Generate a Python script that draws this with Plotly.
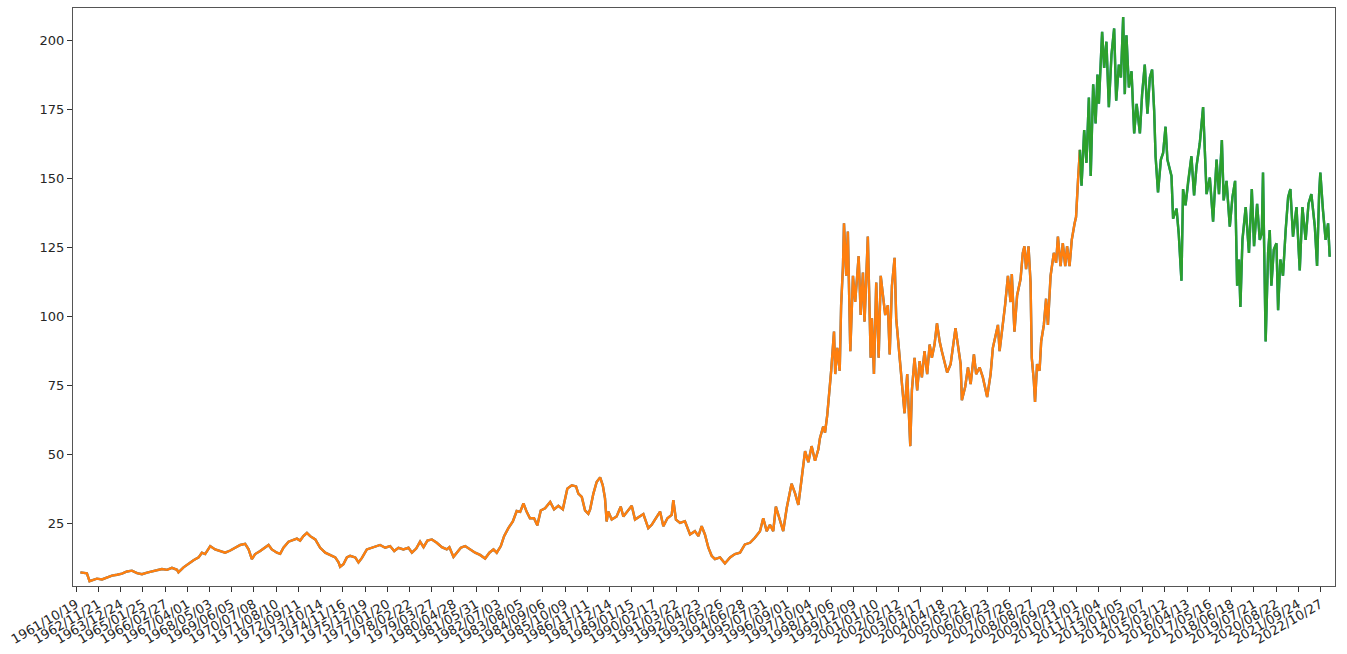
import datetime as dt
import plotly.graph_objects as go

# decimal-year positions and prices
years = [
    1962.00, 1962.24, 1962.32, 1962.45, 1962.65, 1962.81, 1963.06, 1963.30, 1963.55, 1963.80,
    1964.04, 1964.29, 1964.53, 1964.78, 1965.02, 1965.27, 1965.51, 1965.76, 1966.00, 1966.25,
    1966.49, 1966.74, 1966.81, 1967.06, 1967.31, 1967.55, 1967.80, 1967.96, 1968.12, 1968.37,
    1968.61, 1968.86, 1969.10, 1969.35, 1969.59, 1969.84, 1970.08, 1970.25, 1970.41, 1970.57,
    1970.82, 1971.06, 1971.23, 1971.39, 1971.64, 1971.80, 1971.96, 1972.21, 1972.45, 1972.62,
    1972.78, 1972.94, 1973.11, 1973.27, 1973.52, 1973.76, 1974.01, 1974.25, 1974.50, 1974.66,
    1974.74, 1974.90, 1975.07, 1975.23, 1975.48, 1975.64, 1975.81, 1976.05, 1976.30, 1976.54,
    1976.70, 1976.95, 1977.19, 1977.39, 1977.60, 1977.84, 1978.09, 1978.26, 1978.47, 1978.66,
    1978.83, 1979.02, 1979.24, 1979.48, 1979.73, 1979.97, 1980.10, 1980.30, 1980.46, 1980.66,
    1980.87, 1981.11, 1981.36, 1981.60, 1981.85, 1982.06, 1982.26, 1982.42, 1982.62, 1982.78,
    1982.99, 1983.21, 1983.40, 1983.57, 1983.73, 1983.89, 1984.05, 1984.25, 1984.41, 1984.58,
    1984.79, 1985.04, 1985.23, 1985.44, 1985.66, 1985.88, 1986.10, 1986.31, 1986.42, 1986.59,
    1986.75, 1986.91, 1987.00, 1987.16, 1987.32, 1987.49, 1987.62, 1987.73, 1987.81, 1987.89,
    1988.06, 1988.30, 1988.50, 1988.63, 1988.82, 1989.04, 1989.20, 1989.45, 1989.61, 1989.85,
    1990.02, 1990.18, 1990.43, 1990.59, 1990.79, 1991.00, 1991.08, 1991.21, 1991.41, 1991.65,
    1991.90, 1992.14, 1992.31, 1992.47, 1992.63, 1992.80, 1992.96, 1993.12, 1993.37, 1993.61,
    1993.86, 1994.10, 1994.35, 1994.59, 1994.84, 1995.08, 1995.33, 1995.49, 1995.66, 1995.82,
    1995.98, 1996.11, 1996.28, 1996.47, 1996.64, 1996.88, 1997.05, 1997.21, 1997.37, 1997.54,
    1997.70, 1997.86, 1998.03, 1998.19, 1998.27, 1998.43, 1998.52, 1998.63,
    # 1998 - 2005
    1998.82, 1998.96, 1999.02, 1999.12, 1999.24, 1999.31, 1999.40, 1999.45, 1999.56, 1999.64,
    1999.76, 1999.89, 2000.00, 2000.17, 2000.27, 2000.38, 2000.46, 2000.62, 2000.76, 2000.82,
    2000.92, 2001.03, 2001.15, 2001.25, 2001.36, 2001.47, 2001.60, 2001.69, 2001.80, 2001.93,
    2002.01, 2002.09, 2002.23, 2002.29, 2002.42, 2002.55, 2002.63, 2002.70, 2002.78, 2002.91,
    2003.04, 2003.16, 2003.27, 2003.40, 2003.53, 2003.65, 2003.76, 2003.89, 2004.01, 2004.14,
    2004.25, 2004.38, 2004.51, 2004.68, 2004.84, 2004.92, 2005.04,
    # 2005 - 2010
    2005.17, 2005.23, 2005.39, 2005.53, 2005.66, 2005.82, 2005.93, 2006.10, 2006.26, 2006.47,
    2006.64, 2006.75, 2006.86, 2007.00, 2007.08, 2007.24, 2007.35, 2007.49, 2007.62, 2007.68,
    2007.81, 2007.94, 2008.11, 2008.22, 2008.30, 2008.38, 2008.50, 2008.60, 2008.66, 2008.76,
    2008.82, 2008.92, 2009.04, 2009.12, 2009.25, 2009.36, 2009.45, 2009.58, 2009.74, 2009.85,
    2009.94, 2010.07, 2010.18, 2010.30, 2010.39, 2010.51, 2010.62, 2010.76, 2010.83, 2010.93,
    # 2011 - 2017
    2011.02, 2011.10, 2011.23, 2011.34, 2011.46, 2011.55, 2011.67, 2011.79, 2011.88, 2011.95,
    2012.11, 2012.21, 2012.32, 2012.44, 2012.57, 2012.70, 2012.80, 2012.93, 2013.03, 2013.14,
    2013.22, 2013.30, 2013.42, 2013.55, 2013.68, 2013.80, 2013.96, 2014.07, 2014.20, 2014.33,
    2014.45, 2014.56, 2014.66, 2014.73, 2014.85, 2014.99, 2015.10, 2015.22, 2015.31, 2015.51,
    2015.59, 2015.76, 2015.87, 2016.00, 2016.08, 2016.20, 2016.32, 2016.49, 2016.62, 2016.74,
    2016.90, 2017.06,
    # 2017 - 2023
    2017.23, 2017.39, 2017.55, 2017.72, 2017.84, 2017.98, 2018.07, 2018.21, 2018.37, 2018.50,
    2018.63, 2018.73, 2018.82, 2018.89, 2018.99, 2019.15, 2019.31, 2019.45, 2019.56, 2019.71,
    2019.84, 2019.94, 2020.00, 2020.08, 2020.13, 2020.25, 2020.33, 2020.41, 2020.53, 2020.66,
    2020.74, 2020.85, 2020.98, 2021.11, 2021.23, 2021.34, 2021.47, 2021.64, 2021.80, 2021.93,
    2022.09, 2022.23, 2022.37, 2022.54, 2022.65, 2022.75, 2022.81, 2022.94, 2023.07, 2023.19,
    2023.27,
]

prices = [
    7.4, 7.2, 7.0, 4.2, 4.7, 5.1, 4.8, 5.6, 6.2, 6.5,
    6.9, 7.7, 8.0, 7.1, 6.7, 7.3, 7.8, 8.3, 8.6, 8.3,
    9.0, 8.3, 7.4, 9.2, 10.6, 11.8, 12.8, 14.5, 14.0, 16.9,
    15.7, 15.1, 14.5, 15.3, 16.3, 17.3, 17.7, 15.7, 12.2, 14.0,
    15.1, 16.3, 17.3, 15.7, 14.5, 14.1, 16.3, 18.5, 19.3, 19.6,
    18.9, 20.5, 21.7, 20.5, 19.3, 16.3, 14.5, 13.8, 12.8, 11.0,
    9.4, 10.3, 12.8, 13.4, 12.8, 11.0, 12.6, 15.7, 16.3, 16.9,
    17.3, 16.3, 16.9, 15.1, 16.3, 15.7, 16.3, 14.5, 16.0, 18.5,
    16.5, 18.9, 19.3, 18.1, 16.5, 15.7, 16.5, 13.0, 14.5, 16.3,
    16.9, 15.7, 14.5, 13.7, 12.4, 14.5, 15.7, 14.5, 16.9, 20.5,
    23.4, 25.8, 29.6, 29.3, 32.3, 29.3, 27.0, 27.0, 24.4, 29.8,
    30.6, 32.9, 30.2, 31.5, 30.2, 37.7, 38.9, 38.5, 35.9, 34.7,
    29.8, 28.6, 30.2, 35.9, 40.1, 41.8, 38.9, 34.2, 25.8, 29.4,
    26.5, 27.6, 31.2, 27.6, 29.4, 31.5, 26.5, 27.6, 28.5, 23.4,
    24.6, 26.5, 29.4, 24.1, 27.0, 28.2, 33.5, 26.5, 25.3, 25.9,
    21.1, 22.3, 20.5, 24.1, 21.1, 16.3, 13.4, 12.2, 12.8, 10.6,
    12.8, 14.0, 14.5, 17.5, 18.1, 19.9, 22.3, 27.0, 22.3, 24.6,
    22.3, 31.2, 27.0, 22.3, 30.6, 39.5, 36.0, 31.8, 41.2, 51.3,
    47.3, 53.1, 47.8, 51.9, 56.0, 60.2, 58.0, 64.4,
    # 1998 - 2005
    80.4, 94.6, 79.2, 88.7, 80.4, 104.1, 118.3, 133.8, 114.8, 130.8,
    87.5, 114.8, 105.3, 121.9, 100.6, 116.0, 98.2, 129.0, 85.1, 99.4,
    79.2, 112.4, 85.1, 114.8, 107.7, 100.6, 104.1, 86.3, 111.2, 121.3,
    99.4, 92.3, 81.6, 73.3, 65.0, 79.2, 63.8, 53.1, 73.3, 85.1,
    73.3, 83.9, 78.0, 87.5, 79.2, 89.9, 85.1, 89.9, 97.6, 91.1,
    87.5, 83.9, 79.8, 82.8, 92.3, 95.8, 89.5,
    # 2005 - 2010
    82.8, 69.7, 74.5, 81.6, 75.6, 86.3, 79.2, 81.6, 78.0, 70.9,
    79.2, 88.7, 92.3, 97.0, 87.5, 97.0, 104.1, 114.8, 105.3, 115.4,
    94.6, 107.7, 113.6, 123.1, 125.5, 117.2, 125.5, 112.4, 85.1, 76.8,
    69.1, 82.8, 80.4, 91.1, 97.0, 106.5, 97.0, 114.8, 123.1, 119.5,
    129.0, 118.3, 126.6, 118.3, 125.5, 118.3, 127.8, 133.8, 136.1, 149.8,
    # 2011 - 2017
    160.4, 147.4, 167.6, 155.7, 179.4, 151.0, 184.2, 170.0, 187.7, 177.1,
    203.2, 190.1, 199.6, 175.9, 194.9, 204.4, 178.2, 191.3, 186.6, 208.5,
    180.6, 201.9, 183.0, 188.9, 166.4, 177.1, 166.4, 180.6, 191.3, 173.5,
    186.6, 189.5, 174.7, 158.1, 145.0, 156.9, 159.3, 168.8, 156.9, 151.0,
    135.5, 139.1, 129.6, 113.0, 146.2, 140.3, 148.6, 158.1, 143.9, 154.5,
    162.8, 175.9,
    # 2017 - 2023
    144.4, 150.4, 134.4, 156.9, 144.4, 164.0, 142.1, 149.2, 132.6, 143.3,
    149.2, 111.2, 120.7, 103.5, 127.8, 139.7, 123.1, 146.2, 125.5, 140.9,
    127.8, 130.2, 152.2, 101.7, 91.0, 123.1, 131.4, 111.2, 124.3, 126.6,
    102.3, 120.7, 114.8, 131.4, 143.3, 146.2, 129.0, 139.7, 116.7, 139.7,
    127.8, 140.9, 144.4, 132.6, 118.4, 144.4, 152.2, 138.5, 127.8, 133.8,
    121.7,
]

split_year = 2011.02  # end of training part / start of test part

tick_labels = [
    "1961/10/19", "1962/11/21", "1963/12/24", "1965/01/25", "1966/02/27", "1967/04/01",
    "1968/05/03", "1969/06/05", "1970/07/08", "1971/08/10", "1972/09/11", "1973/10/14",
    "1974/11/16", "1975/12/19", "1977/01/20", "1978/02/22", "1979/03/27", "1980/04/28",
    "1981/05/31", "1982/07/03", "1983/08/05", "1984/09/06", "1985/10/09", "1986/11/11",
    "1987/12/14", "1989/01/15", "1990/02/17", "1991/03/22", "1992/04/23", "1993/05/26",
    "1994/06/28", "1995/07/31", "1996/09/01", "1997/10/04", "1998/11/06", "1999/12/09",
    "2001/01/10", "2002/02/12", "2003/03/17", "2004/04/18", "2005/05/21", "2006/06/23",
    "2007/07/26", "2008/08/27", "2009/09/29", "2010/11/01", "2011/12/04", "2013/01/05",
    "2014/02/07", "2015/03/12", "2016/04/13", "2017/05/16", "2018/06/18", "2019/07/21",
    "2020/08/22", "2021/09/24", "2022/10/27",
]
y_ticks = [25, 50, 75, 100, 125, 150, 175, 200]


def yr2date(y):
    base = int(y)
    return dt.datetime(base, 1, 1) + dt.timedelta(days=(y - base) * 365.25)


dates = [yr2date(y) for y in years]
train_x = [d for d, y in zip(dates, years) if y <= split_year]
train_y = [p for p, y in zip(prices, years) if y <= split_year]
test_x = [d for d, y in zip(dates, years) if y >= split_year]
test_y = [p for p, y in zip(prices, years) if y >= split_year]
tick_vals = [dt.datetime.strptime(t, "%Y/%m/%d") for t in tick_labels]

fig = go.Figure()
fig.add_trace(go.Scatter(x=dates, y=prices, mode="lines",
                         line=dict(color="#1f77b4", width=2.4), name="actual"))
fig.add_trace(go.Scatter(x=train_x, y=train_y, mode="lines",
                         line=dict(color="#ff7f0e", width=2.4), name="train"))
fig.add_trace(go.Scatter(x=test_x, y=test_y, mode="lines",
                         line=dict(color="#2ca02c", width=2.4), name="test"))

axis_font = dict(family="DejaVu Sans", size=13, color="#262626")
fig.update_layout(
    width=1347, height=654,
    margin=dict(l=73, r=12, t=7, b=58),
    paper_bgcolor="white", plot_bgcolor="white",
    showlegend=False,
    font=axis_font,
)
fig.update_xaxes(
    type="date",
    range=[yr2date(1961.638), yr2date(2023.53)],
    tickmode="array", tickvals=tick_vals, ticktext=tick_labels,
    tickangle=-30, tickfont=axis_font,
    ticks="outside", ticklen=5, tickcolor="#333", tickwidth=1,
    showgrid=False, zeroline=False,
    showline=True, linecolor="#555", linewidth=1, mirror=True,
)
fig.update_yaxes(
    range=[2.44, 211.8],
    tickmode="array", tickvals=y_ticks,
    tickfont=axis_font,
    ticks="outside", ticklen=5, tickcolor="#333", tickwidth=1,
    showgrid=False, zeroline=False,
    showline=True, linecolor="#555", linewidth=1, mirror=True,
)

fig.write_html("out.html")
